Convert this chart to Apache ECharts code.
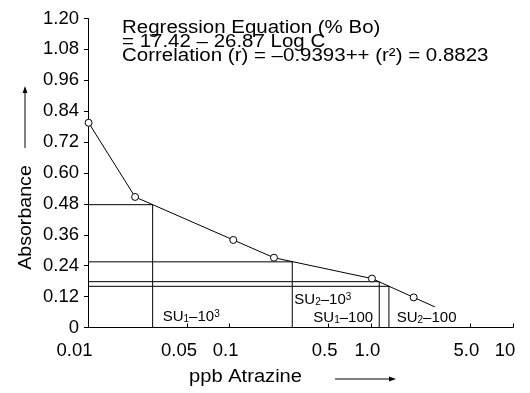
<!DOCTYPE html>
<html><head><meta charset="utf-8">
<script src="https://cdn.jsdelivr.net/npm/echarts@6/dist/echarts.min.js"></script>
<style>html,body{margin:0;padding:0;background:#fff}#c{width:530px;height:393px}</style>
</head><body><div id="c"></div>
<script>
// ---- data ----
const curveX = [0.0101, 0.0215, 0.106, 0.2054, 1.01, 1.99, 2.81];
const curveY = [0.795, 0.507, 0.34, 0.271, 0.19, 0.117, 0.08];
const curveMarked = [true, true, true, true, true, true, false];
const cutY = [0.477, 0.255, 0.178, 0.16];
const cutX = [0.0286, 0.2766, 1.137, 1.331];
const xTickValues = [0.01, 0.05, 0.1, 0.5, 1, 5, 10];
const xTickLabels = ['0.01', '0.05', '0.1', '0.5', '1.0', '5.0', '10'];
const yMin = 0, yMax = 1.2, yStep = 0.12;
const titleLines = ['Regression Equation (% Bo)', '= 17.42 \u2013 26.87 Log C', 'Correlation (r) = \u20130.9393++ (r\u00b2) = 0.8823'];
const yName = 'Absorbance';
const xName = 'ppb Atrazine';
const suTexts = ['{n|SU}{b|1}{n|\u201310}{p|3}', '{n|SU}{b|2}{n|\u201310}{p|3}', '{n|SU}{b|1}{n|\u2013100}', '{n|SU}{b|2}{n|\u2013100}'];

// ---- styles ----
const FF = '"Liberation Sans", Arial, Helvetica, sans-serif';
const labelShift = ['l', 'm', 's', 's', 's', 's', 'm'];
const suPos = [[162.7, 317.2], [294.3, 300.2], [313.3, 317.5], [396.7, 317.5]];

const chart = echarts.init(document.getElementById('c'), null, {renderer: 'canvas'});

const series = [{
  type: 'line',
  data: curveX.map((x, i) => ({value: [x, curveY[i]], symbol: curveMarked[i] ? 'circle' : 'none'})),
  symbolSize: 7,
  showAllSymbol: true,
  itemStyle: {color: '#fff', borderColor: '#000', borderWidth: 1},
  lineStyle: {color: '#000', width: 1},
  clip: false,
  z: 5,
  animation: false
}];
cutY.forEach((y, i) => {
  series.push({
    type: 'line',
    data: [[xTickValues[0], y], [cutX[i], y], [cutX[i], yMin]],
    symbol: 'none',
    lineStyle: {color: '#000', width: 1},
    z: 2,
    animation: false,
    silent: true
  });
});

const rich = {
  n: {fontSize: 15, lineHeight: 15, fontFamily: FF, fill: '#000'},
  b: {fontSize: 10, lineHeight: 12, verticalAlign: 'bottom', fontFamily: FF, fill: '#000'},
  p: {fontSize: 10, lineHeight: 10, verticalAlign: 'top', fontFamily: FF, fill: '#000'}
};

const graphic = [
  {type: 'text', x: 122, y: 21, scaleX: 1.17, silent: true,
   style: {text: titleLines.join('\n'), fontSize: 17.5, lineHeight: 14.2, fontFamily: FF, fill: '#000', verticalAlign: 'top', align: 'left'}},
  {type: 'text', x: 26, y: 217.5, rotation: Math.PI / 2, scaleX: 1.12, silent: true,
   style: {text: yName, fontSize: 17.5, fontFamily: FF, fill: '#000', align: 'center', verticalAlign: 'middle'}},
  {type: 'line', silent: true, shape: {x1: 25, y1: 148, x2: 25, y2: 92}, style: {stroke: '#000', lineWidth: 1}},
  {type: 'polygon', silent: true, shape: {points: [[25, 86], [22.6, 93], [27.4, 93]]}, style: {fill: '#000'}},
  {type: 'text', x: 189, y: 377, scaleX: 1.15, silent: true,
   style: {text: xName, fontSize: 17.5, fontFamily: FF, fill: '#000', align: 'left', verticalAlign: 'middle'}},
  {type: 'line', silent: true, shape: {x1: 335, y1: 379, x2: 390, y2: 379}, style: {stroke: '#000', lineWidth: 1}},
  {type: 'polygon', silent: true, shape: {points: [[396, 379], [389, 376.6], [389, 381.4]]}, style: {fill: '#000'}}
];
suTexts.forEach((t, i) => {
  graphic.push({type: 'text', x: suPos[i][0], y: suPos[i][1], silent: true,
    style: {text: t, rich: rich, fontSize: 15, fontFamily: FF, fill: '#000', align: 'left', verticalAlign: 'middle'}});
});

function xLabelIndex(v) {
  for (let i = 0; i < xTickValues.length; i++) {
    if (Math.abs(Math.log10(v) - Math.log10(xTickValues[i])) < 1e-6) return i;
  }
  return -1;
}

chart.setOption({
  animation: false,
  backgroundColor: '#fff',
  grid: {left: 88, right: 17, top: 18.5, bottom: 65.5, containLabel: false, outerBoundsMode: 'none'},
  xAxis: {
    type: 'log', logBase: 10, min: xTickValues[0], max: xTickValues[xTickValues.length - 1],
    axisLine: {show: true, lineStyle: {color: '#000', width: 1}},
    axisTick: {show: true, inside: true, length: 4, customValues: xTickValues, lineStyle: {color: '#000', width: 1}},
    axisLabel: {
      customValues: xTickValues,
      margin: 14, fontSize: 18.5, fontFamily: FF, color: '#000',
      formatter: function (v) {
        const i = xLabelIndex(v);
        if (i < 0) return '';
        return '{' + labelShift[i] + '|' + xTickLabels[i] + '}';
      },
      rich: {
        l: {padding: [0, 27, 0, 0], fontSize: 18.5, fontFamily: FF, color: '#000'},
        m: {padding: [0, 16, 0, 0], fontSize: 18.5, fontFamily: FF, color: '#000'},
        s: {padding: [0, 8, 0, 0], fontSize: 18.5, fontFamily: FF, color: '#000'}
      }
    },
    splitLine: {show: false},
    minorTick: {show: false}
  },
  yAxis: {
    type: 'value', min: yMin, max: yMax, interval: yStep,
    axisLine: {show: true, lineStyle: {color: '#000', width: 1}},
    axisTick: {show: true, inside: false, length: 4, lineStyle: {color: '#000', width: 1}},
    axisLabel: {
      margin: 9, fontSize: 18.5, fontFamily: FF, color: '#000',
      formatter: function (v) { return Math.abs(v) < 1e-9 ? '0' : v.toFixed(2); }
    },
    splitLine: {show: false}
  },
  series: series,
  graphic: graphic
});
</script>
</body></html>
